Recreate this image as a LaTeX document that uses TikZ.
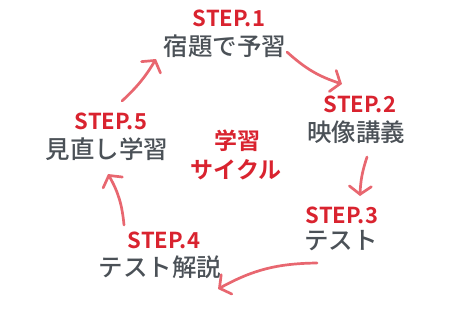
\documentclass[tikz,border=0pt]{standalone}
\usepackage{fontspec}
\usepackage{xcolor}
\usetikzlibrary{arrows.meta}
\setmainfont{Noto Sans CJK JP}[BoldFont={Noto Sans CJK JP Bold}]
\newfontfamily\mediumjp{Noto Sans CJK JP Medium}
\definecolor{stp}{HTML}{D9232F}
\definecolor{txt}{HTML}{4B5157}
\definecolor{arw}{HTML}{E86770}

\begin{document}
\begin{tikzpicture}[x=1pt, y=-1pt,
  steplab/.style={text=stp, font=\fontsize{22}{22}\selectfont\bfseries, inner sep=0pt},
  task/.style={text=txt, font=\mediumjp\fontsize{24.5}{24.5}\selectfont, inner sep=0pt},
  core/.style={text=stp, font=\fontsize{23}{23}\selectfont\bfseries, inner sep=0pt},
  flow/.style={draw=arw, line width=2.7pt, line cap=round, line join=round,
    -{Straight Barb[length=8pt, width=22pt, line cap=round]}}]
\useasboundingbox (0,0) rectangle (474,311);
% centre
\node[core] (c1) at (237,141) {学習};
\node[core] (c2) at (236,170) {サイクル};
% steps
\node[steplab] (s1) at (229,18) {STEP.1};
\node[task] (t1) at (225,46) {宿題で予習};
\node[steplab] (s2) at (360,104) {STEP.2};
\node[task] (t2) at (356,132) {映像講義};
\node[steplab] (s3) at (342,215) {STEP.3};
\node[task] (t3) at (341,241) {テスト};
\node[steplab] (s4) at (164,240) {STEP.4};
\node[task] (t4) at (160,267) {テスト解説};
\node[steplab] (s5) at (111,121) {STEP.5};
\node[task] (t5) at (107,149) {見直し学習};
% arrow ends
\coordinate (a1) at (287,52);  \coordinate (b1) at (342,84);
\coordinate (a2) at (367,157); \coordinate (b2) at (360,196);
\coordinate (a3) at (317,263); \coordinate (b3) at (218,289);
\coordinate (a4) at (124,225); \coordinate (b4) at (108,174);
\coordinate (a5) at (122,101); \coordinate (b5) at (156,59);
\draw[flow] (a1) to[bend right=12] (b1);
\draw[flow] (a2) to[bend right=8] (b2);
\draw[flow] (a3) to[bend right=14] (b3);
\draw[flow] (a4) to[bend right=12] (b4);
\draw[flow] (a5) to[bend right=8] (b5);
\end{tikzpicture}
\end{document}
